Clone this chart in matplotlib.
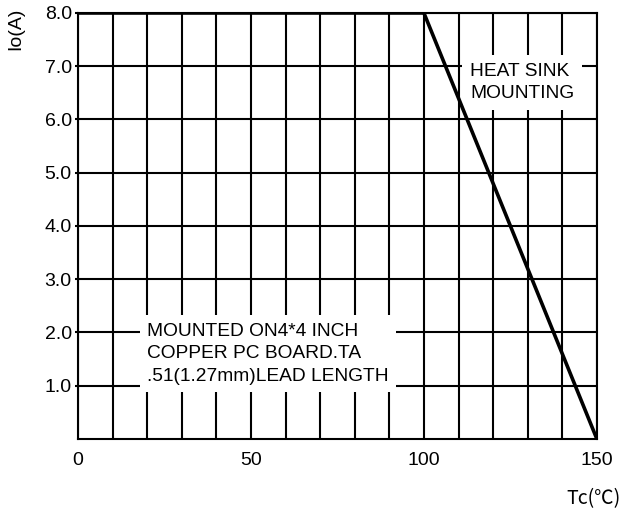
import matplotlib
matplotlib.use('Agg')
import matplotlib.pyplot as plt

plt.rcParams['font.family'] = ['Liberation Sans', 'DejaVu Sans']

# derating curve
tc = [0, 100, 150]
io = [8.0, 8.0, 0.0]

xticks = [0, 50, 100, 150]
yticks = [1.0, 2.0, 3.0, 4.0, 5.0, 6.0, 7.0, 8.0]
xgrid = list(range(0, 151, 10))

fig = plt.figure(figsize=(6.25, 5.17), dpi=100)
ax = fig.add_axes([0.1248, 0.1509, 0.8302, 0.8240])

ax.set_xlim(0, 150)
ax.set_ylim(0, 8)

# grid
for x in xgrid:
    ax.axvline(x, color='black', lw=1.5, zorder=1)
for y in yticks:
    ax.axhline(y, color='black', lw=1.5, zorder=1)

ax.plot(tc, io, color='black', lw=2.6, zorder=5, solid_capstyle='butt')

box = dict(boxstyle='square,pad=0.4', facecolor='white', edgecolor='none')
ax.text(20.0, 1.60, 'MOUNTED ON4*4 INCH\nCOPPER PC BOARD.TA\n.51(1.27mm)LEAD LENGTH',
        fontsize=13.8, ha='left', va='center', linespacing=1.42, bbox=box, zorder=3)
ax.text(113.3, 6.69, 'HEAT SINK\nMOUNTING',
        fontsize=13.8, ha='left', va='center', linespacing=1.42, bbox=box, zorder=3)

ax.set_xticks(xticks)
ax.set_xticklabels([str(v) for v in xticks])
ax.set_yticks(yticks)
ax.set_yticklabels(['%.1f' % v for v in yticks])
ax.tick_params(axis='x', length=0, pad=9.5, labelsize=14)
ax.tick_params(axis='y', length=2.5, width=1.5, pad=2, labelsize=14)

for s in ax.spines.values():
    s.set_linewidth(1.5)
    s.set_zorder(4)

fig.text(0.0256, 0.945, 'Io(A)', rotation=90, fontsize=14, ha='center', va='center')
fig.text(0.950, 0.035, 'Tc(℃)', fontsize=14, ha='center', va='center',
         family=['Noto Sans CJK SC', 'Liberation Sans'])

fig.savefig('out.png', dpi=100)
